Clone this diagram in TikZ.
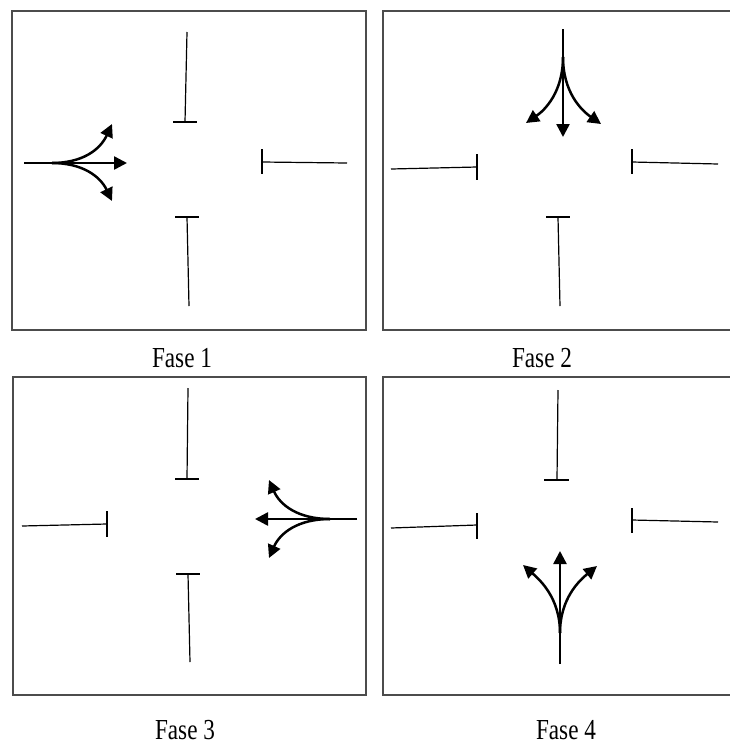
\documentclass[tikz,border=0pt]{standalone}
\usepackage{fontspec}
\setmainfont{Liberation Serif}
\usetikzlibrary{arrows.meta}
\begin{document}
\begin{tikzpicture}[x=1pt,y=-1pt,
  frame/.style={draw=black!70,line width=1.3pt},
  road/.style={line width=1.2pt},
  bar/.style={line width=2.6pt},
  arr/.style={line width=2.5pt,-{Triangle[length=13pt,width=13pt]}},
  lbl/.style={anchor=base,inner sep=0pt,font=\fontsize{29}{31}\selectfont}]
\useasboundingbox (0,0) rectangle (729,745);
% ---------- frames
\draw[frame] (12,11) rectangle (366,330);
\draw[frame] (731,11) -- (383,11) -- (383,330) -- (731,330);
\draw[frame] (13,377) rectangle (366,695);
\draw[frame] (731,377) -- (383,377) -- (383,695) -- (731,695);
% ---------- labels
\node[lbl] (l1) at (182,367) {\scalebox{0.8}[1]{Fase 1}};
\node[lbl] (l2) at (542,367) {\scalebox{0.8}[1]{Fase 2}};
\node[lbl] (l3) at (185,739) {\scalebox{0.8}[1]{Fase 3}};
\node[lbl] (l4) at (566,739) {\scalebox{0.8}[1]{Fase 4}};
% ---------- Fase 1
\draw[road] (187,32) -- (185,122);
\draw[bar] (173,122) -- (197,122);
\draw[road] (347,163) -- (262,162);
\draw[bar] (262,149) -- (262,174);
\draw[bar] (175,217) -- (199,217);
\draw[road] (187,217) -- (189,306);
\coordinate (o1) at (24,163);
\coordinate (b1) at (52,163);
\draw[arr] (o1) -- (127,163);
\draw[arr] (b1) .. controls (82,163) and (100,150) .. (112,124);
\draw[arr] (b1) .. controls (82,163) and (100,176) .. (112,201);
% ---------- Fase 2
\draw[road] (391,169) -- (477,167);
\draw[bar] (477,154) -- (477,180);
\draw[road] (718,164) -- (632,162);
\draw[bar] (632,149) -- (632,174);
\draw[bar] (546,217) -- (570,217);
\draw[road] (558,217) -- (560,306);
\coordinate (o2) at (563,29);
\coordinate (b2) at (563,57);
\draw[arr] (o2) -- (563,137);
\draw[arr] (b2) .. controls (563,92) and (545,110) .. (526,123);
\draw[arr] (b2) .. controls (563,92) and (581,110) .. (601,124);
% ---------- Fase 3
\draw[road] (188,388) -- (187,479);
\draw[bar] (175,479) -- (199,479);
\draw[road] (22,526) -- (107,524);
\draw[bar] (107,511) -- (107,537);
\draw[bar] (176,574) -- (200,574);
\draw[road] (188,574) -- (190,662);
\coordinate (o3) at (357,519);
\coordinate (b3) at (330,519);
\draw[arr] (o3) -- (255,519);
\draw[arr] (b3) .. controls (298,519) and (280,505) .. (269,480);
\draw[arr] (b3) .. controls (298,519) and (280,533) .. (269,558);
% ---------- Fase 4
\draw[road] (558,390) -- (557,480);
\draw[bar] (544,480) -- (569,480);
\draw[road] (391,528) -- (477,525);
\draw[bar] (477,513) -- (477,539);
\draw[road] (718,522) -- (632,520);
\draw[bar] (632,508) -- (632,533);
\coordinate (o4) at (560,664);
\coordinate (b4) at (560,633);
\draw[arr] (o4) -- (560,551);
\draw[arr] (b4) .. controls (560,598) and (540,580) .. (523,565);
\draw[arr] (b4) .. controls (560,598) and (580,580) .. (597,566);
\end{tikzpicture}
\end{document}
